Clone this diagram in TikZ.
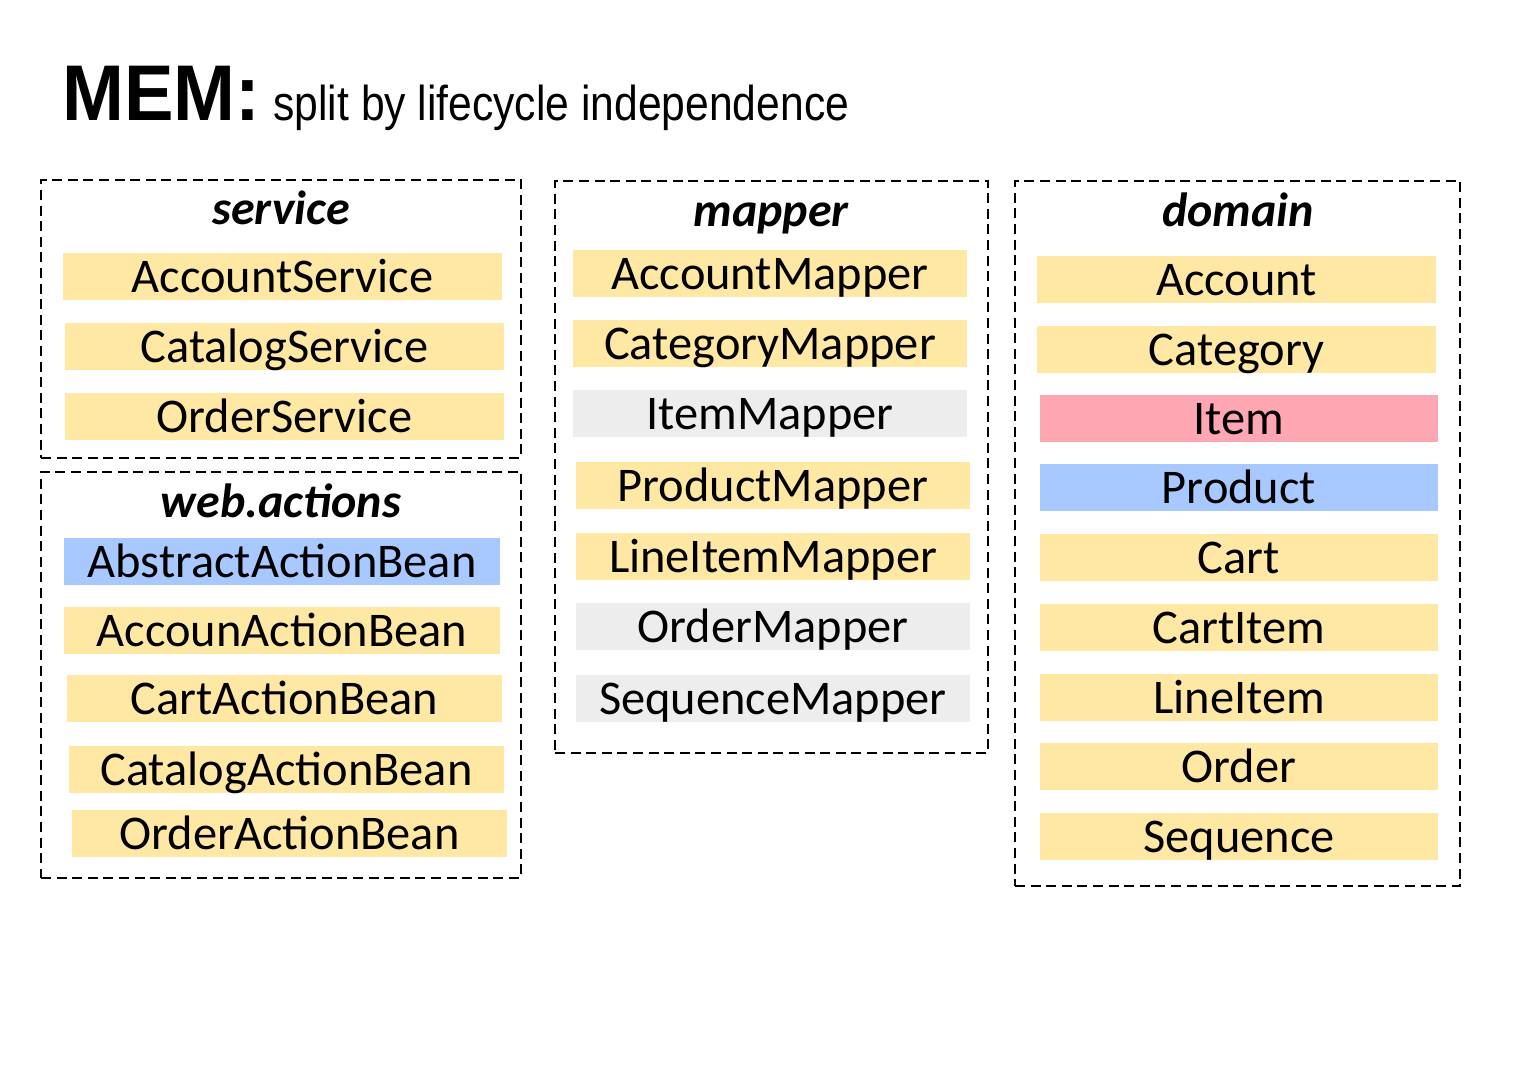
\documentclass[tikz,border=0pt]{standalone}
\usepackage{fontspec}
\setmainfont{Carlito}
\newfontfamily\ttlfont{Liberation Sans}
\usetikzlibrary{positioning}
\definecolor{yel}{HTML}{FFE8A3}
\definecolor{blu}{HTML}{A8C9FF}
\definecolor{pnk}{HTML}{FFA6B3}
\definecolor{gry}{HTML}{EDEDED}
\begin{document}
\begin{tikzpicture}[x=0.5pt,y=-0.5pt,
  item/.style={inner sep=0pt, minimum height=23.5pt, text height=16pt, text depth=0pt, font=\fontsize{24.2}{26}\selectfont, align=center},
  grp/.style={draw=black, line width=1pt, dash pattern=on 5pt off 2.8pt, inner sep=0pt},
  hdr/.style={anchor=base, inner sep=0pt, font=\fontsize{24}{26}\selectfont\bfseries\itshape}]
\path[use as bounding box, fill=white] (0,0) rectangle (1526,1065);
% title
\node[anchor=base west, inner sep=0pt] (mem) at (62,120) {\ttlfont\fontsize{39.5}{40}\selectfont\bfseries\scalebox{0.94}[1]{MEM:}};
\node[anchor=base west, inner sep=0pt] (sub) at (273,120) {\ttlfont\fontsize{24.5}{26}\selectfont\scalebox{0.87}[1]{split by lifecycle independence}};
% groups
\node[grp, minimum width=240pt, minimum height=139pt] (svc) at (281,319) {};
\node[grp, minimum width=240pt, minimum height=203pt] (web) at (281,675) {};
\node[grp, minimum width=216.5pt, minimum height=286pt] (map) at (771.5,467) {};
\node[grp, minimum width=222.5pt, minimum height=352.5pt] (dom) at (1237.5,533.5) {};
% headers
\node[hdr] (svch) at (281,224) {service};
\node[hdr] (webh) at (281,517) {web.actions};
\node[hdr] (maph) at (771,226) {mapper};
\node[hdr] (domh) at (1238,226) {domain};
% service
\node[item, fill=yel, minimum width=219.5pt] (s1) at (282.5,276.5) {AccountService};
\node[item, fill=yel, minimum width=219.5pt] (s2) at (284.5,346.5) {CatalogService};
\node[item, fill=yel, minimum width=219.5pt] (s3) at (284.5,416.5) {OrderService};
% web.actions
\node[item, fill=blu, minimum width=218pt] (w1) at (282,561.5) {AbstractActionBean};
\node[item, fill=yel, minimum width=218pt] (w2) at (282,630) {AccounActionBean};
\node[item, fill=yel, minimum width=217.5pt] (w3) at (284.5,698.5) {CartActionBean};
\node[item, fill=yel, minimum width=217.5pt] (w4) at (286.5,769) {CatalogActionBean};
\node[item, fill=yel, minimum width=217.5pt] (w5) at (289.5,833.5) {OrderActionBean};
% mapper
\node[item, fill=yel, minimum width=197pt] (m1) at (770,273) {AccountMapper};
\node[item, fill=yel, minimum width=197pt] (m2) at (770,343.5) {CategoryMapper};
\node[item, fill=gry, minimum width=197pt] (m3) at (770,413.5) {ItemMapper};
\node[item, fill=yel, minimum width=197pt] (m4) at (773,485.5) {ProductMapper};
\node[item, fill=yel, minimum width=197pt] (m5) at (773,556.5) {LineItemMapper};
\node[item, fill=gry, minimum width=197pt] (m6) at (773,626.5) {OrderMapper};
\node[item, fill=gry, minimum width=197pt] (m7) at (773,698) {SequenceMapper};
% domain
\node[item, fill=yel, minimum width=199.5pt] (d1) at (1236.5,279) {Account};
\node[item, fill=yel, minimum width=199.5pt] (d2) at (1236.5,349) {Category};
\node[item, fill=pnk, minimum width=199pt] (d3) at (1239,418.5) {Item};
\node[item, fill=blu, minimum width=199pt] (d4) at (1239,487.5) {Product};
\node[item, fill=yel, minimum width=199pt] (d5) at (1239,557.5) {Cart};
\node[item, fill=yel, minimum width=199pt] (d6) at (1239,627) {CartItem};
\node[item, fill=yel, minimum width=199pt] (d7) at (1239,697) {LineItem};
\node[item, fill=yel, minimum width=199pt] (d8) at (1239,766.5) {Order};
\node[item, fill=yel, minimum width=199pt] (d9) at (1239,836) {Sequence};
\end{tikzpicture}
\end{document}
